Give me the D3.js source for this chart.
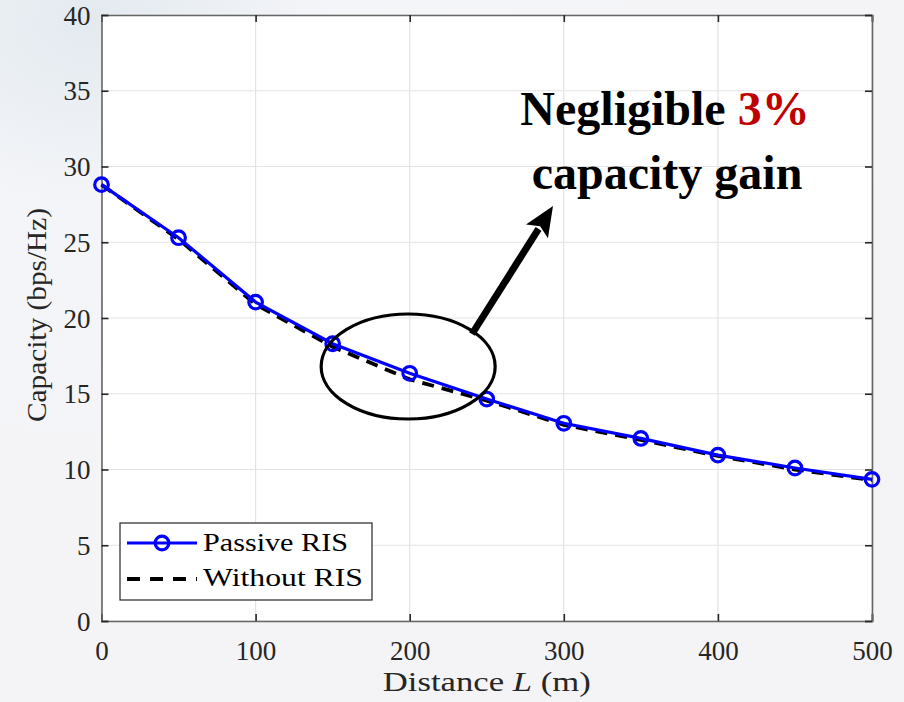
<!DOCTYPE html>
<html><head><meta charset="utf-8">
<script src="https://cdn.jsdelivr.net/npm/d3@7"></script>
<style>body{margin:0;background:#f2f3f6;}svg{display:block;}</style>
</head><body>
<svg id="c" width="904" height="702"></svg>
<script>
const distances = [0,50,100,150,200,250,300,350,400,450,500];
const passiveRIS = [28.8,25.3,21.05,18.3,16.35,14.65,13.05,12.05,10.95,10.1,9.35];
const withoutRIS = [28.8,25.2,20.9,18.1,15.95,14.55,12.95,11.95,10.9,10.0,9.3];
const xTicks = [0,100,200,300,400,500];
const yTicks = [0,5,10,15,20,25,30,35,40];

const svg = d3.select("#c");
const W=904,H=702;
const m={l:101.5,r:32,t:15,b:81};
const defs = svg.append("defs");
const g1 = defs.append("radialGradient").attr("id","bg").attr("cx","0.1").attr("cy","0.03").attr("r","0.9");
g1.append("stop").attr("offset","0").attr("stop-color","#e3eaf0");
g1.append("stop").attr("offset","0.3").attr("stop-color","#f4f5f8");
g1.append("stop").attr("offset","1").attr("stop-color","#f4f4f7");
svg.append("rect").attr("width",W).attr("height",H).attr("fill","url(#bg)");

const x = d3.scaleLinear().domain([0,500]).range([m.l, W-m.r]);
const y = d3.scaleLinear().domain([0,40]).range([H-m.b, m.t]);
const font = "'Liberation Serif','Times New Roman',serif";

svg.append("rect").attr("x",x(0)).attr("y",y(40)).attr("width",x(500)-x(0)).attr("height",y(0)-y(40)).attr("fill","#fff");

// grid
const grid = svg.append("g").attr("stroke","#e3e3e3").attr("stroke-width",1.2);
xTicks.forEach(t=>grid.append("line").attr("x1",x(t)).attr("x2",x(t)).attr("y1",y(0)).attr("y2",y(40)));
yTicks.forEach(t=>grid.append("line").attr("y1",y(t)).attr("y2",y(t)).attr("x1",x(0)).attr("x2",x(500)));

// axes
const axc = "#262626";
const ax = svg.append("g").attr("transform",`translate(0,${y(0)})`).call(d3.axisBottom(x).tickValues(xTicks).tickSize(-7).tickPadding(20).tickFormat(d3.format("d")));
const axTop = svg.append("g").attr("transform",`translate(0,${y(40)})`).call(d3.axisTop(x).tickValues(xTicks).tickSize(-7).tickFormat(""));
const ay = svg.append("g").attr("transform",`translate(${x(0)},0)`).call(d3.axisLeft(y).tickValues(yTicks).tickSize(-7).tickPadding(11));
const ayR = svg.append("g").attr("transform",`translate(${x(500)},0)`).call(d3.axisRight(y).tickValues(yTicks).tickSize(-7).tickFormat(""));
[ax,axTop,ay,ayR].forEach(a=>{
  a.attr("font-family",null).attr("font-size",null);
  a.selectAll("path").attr("stroke","#666").attr("stroke-width",1.6);
  a.selectAll("line").attr("stroke",axc).attr("stroke-width",1.6);
  a.selectAll("text").attr("fill",axc).style("font-family",font).style("font-size","27px");
});
ax.selectAll("text").attr("dy","0.71em");
ay.selectAll("text").attr("dy","0.34em");

svg.append("text").attr("x",x(250)).attr("y",691).attr("text-anchor","middle")
  .attr("textLength",208).attr("lengthAdjust","spacingAndGlyphs")
  .style("font-family",font).style("font-size","27px").attr("fill",axc)
  .call(t=>{t.append("tspan").text("Distance ");t.append("tspan").attr("font-style","italic").text("L");t.append("tspan").text(" (m)");});
svg.append("text").attr("transform",`translate(46,${y(20)-3}) rotate(-90)`).attr("text-anchor","middle")
  .attr("textLength",214).attr("lengthAdjust","spacingAndGlyphs")
  .style("font-family",font).style("font-size","27px").attr("fill",axc).text("Capacity (bps/Hz)");

// lines
const line = d3.line().x((d,i)=>x(distances[i])).y(d=>y(d));
svg.append("path").datum(withoutRIS).attr("d",line).attr("fill","none").attr("stroke","#000").attr("stroke-width",3.8).attr("stroke-dasharray","12,8");
svg.append("path").datum(passiveRIS).attr("d",line).attr("fill","none").attr("stroke","#0000ff").attr("stroke-width",3.2);
svg.append("g").selectAll("circle").data(passiveRIS).join("circle")
  .attr("cx",(d,i)=>x(distances[i])).attr("cy",d=>y(d)).attr("r",6.8)
  .attr("fill","none").attr("stroke","#0000ff").attr("stroke-width",3.2);

// annotation ellipse & arrow
svg.append("ellipse").attr("cx",x(199)).attr("cy",y(16.8)).attr("rx",87).attr("ry",52.5)
  .attr("fill","none").attr("stroke","#000").attr("stroke-width",3.2);
const ax0=472, ay0=334, ax1=553, ay1=206;
const ang = Math.atan2(ay1-ay0, ax1-ax0);
const hl=30, hw=13;
const bx = ax1 - hl*Math.cos(ang), by = ay1 - hl*Math.sin(ang);
svg.append("line").attr("x1",ax0).attr("y1",ay0).attr("x2",bx+3*Math.cos(ang)).attr("y2",by+3*Math.sin(ang)).attr("stroke","#000").attr("stroke-width",7);
svg.append("path").attr("d",`M${ax1},${ay1}L${bx - hw*Math.sin(ang)},${by + hw*Math.cos(ang)}L${bx+6*Math.cos(ang)},${by+6*Math.sin(ang)}L${bx + hw*Math.sin(ang)},${by - hw*Math.cos(ang)}Z`).attr("fill","#000");

const ann = svg.append("text").attr("text-anchor","middle").style("font-family",font).style("font-size","48px").style("font-weight","bold");
ann.append("tspan").attr("x",665).attr("y",125).attr("fill","#000").text("Negligible ");
ann.append("tspan").attr("fill","#c00000").text("3%");
ann.append("tspan").attr("x",667).attr("y",189).attr("fill","#000").text("capacity gain");

// legend
const lg = svg.append("g");
lg.append("rect").attr("x",120).attr("y",523).attr("width",252).attr("height",77).attr("fill","#fff").attr("stroke","#262626").attr("stroke-width",1.2);
lg.append("line").attr("x1",127).attr("x2",197).attr("y1",543).attr("y2",543).attr("stroke","#0000ff").attr("stroke-width",3.2);
lg.append("circle").attr("cx",162).attr("cy",543).attr("r",6.8).attr("fill","none").attr("stroke","#0000ff").attr("stroke-width",3.2);
lg.append("line").attr("x1",127).attr("x2",197).attr("y1",579).attr("y2",579).attr("stroke","#000").attr("stroke-width",3.8).attr("stroke-dasharray","13,10");
lg.append("text").attr("x",203).attr("y",551).attr("textLength",145).attr("lengthAdjust","spacingAndGlyphs").style("font-family",font).style("font-size","26px").attr("fill","#000").text("Passive RIS");
lg.append("text").attr("x",203).attr("y",586).attr("textLength",160).attr("lengthAdjust","spacingAndGlyphs").style("font-family",font).style("font-size","26px").attr("fill","#000").text("Without RIS");
</script>
</body></html>
